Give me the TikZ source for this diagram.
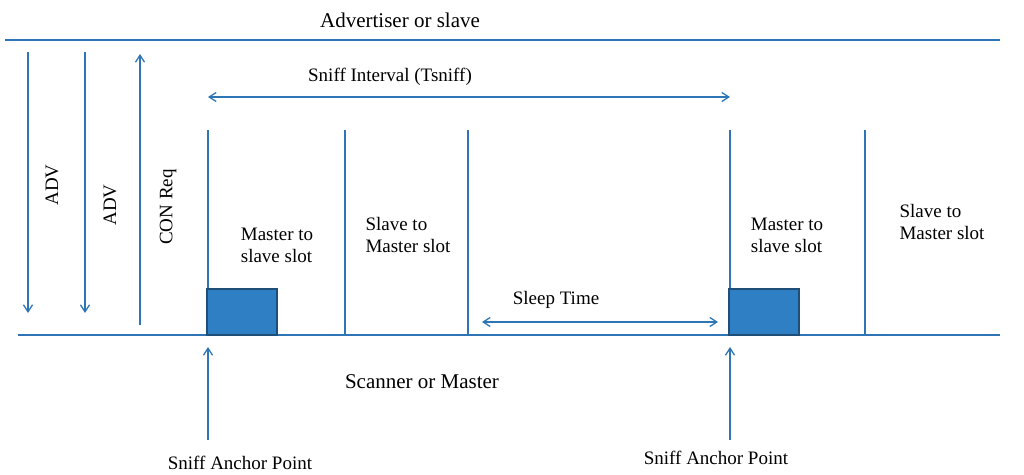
\documentclass[tikz,border=0pt]{standalone}
\usepackage{fontspec}
\setmainfont{Liberation Serif}
\usetikzlibrary{arrows.meta}
\definecolor{ln}{HTML}{2E75B6}
\definecolor{bx}{HTML}{2E7FC4}
\definecolor{bd}{HTML}{1F4E79}
\begin{document}
\begin{tikzpicture}[x=1pt,y=-1pt,
  l/.style={draw=ln,line width=1.3pt},
  a/.style={l,-{Straight Barb[length=7pt,width=9pt]}},
  aa/.style={l,{Straight Barb[length=7pt,width=9pt]}-{Straight Barb[length=7pt,width=9pt]}},
  t/.style={font=\fontsize{19}{22}\selectfont,align=left},
  box/.style={fill=bx,draw=bd,line width=2pt}]
\useasboundingbox (0,0) rectangle (1024,474);
\node[t,font=\fontsize{21}{24}\selectfont] (top) at (400,20) {Advertiser or slave};
\coordinate (t1) at (5,40); \coordinate (t2) at (1000,40);
\draw[l] (t1) -- (t2);
\coordinate (b1) at (18,335); \coordinate (b2) at (1000,335);
\draw[l] (b1) -- (b2);
\coordinate (a1s) at (28,52); \coordinate (a1e) at (28,313);
\draw[a] (a1s) -- (a1e);
\node[t,rotate=90] (adv1) at (52,185) {ADV};
\coordinate (a2s) at (85,52); \coordinate (a2e) at (85,313);
\draw[a] (a2s) -- (a2e);
\node[t,rotate=90] (adv2) at (110,205) {ADV};
\coordinate (a3s) at (140,325); \coordinate (a3e) at (140,54);
\draw[a] (a3s) -- (a3e);
\node[t,rotate=90] (con) at (168,207) {CON Req};
\coordinate (s1) at (208,97); \coordinate (s2) at (730,97);
\draw[aa] (s1) -- (s2);
\node[t] (si) at (390,77) {Sniff Interval (Tsniff)};
\foreach \x/\n in {208/v1,345/v2,468/v3,730/v4,865/v5}{
  \coordinate (\n a) at (\x,130); \coordinate (\n b) at (\x,335);
  \draw[l] (\n a) -- (\n b);}
\node[t] (m1) at (277,245) {Master to\\slave slot};
\node[t] (s1l) at (408,235) {Slave to\\Master slot};
\node[t] (m2) at (787,235) {Master to\\slave slot};
\node[t] (s2l) at (942,222) {Slave to\\Master slot};
\draw[box] (207,289) rectangle (277,335);
\draw[box] (729,289) rectangle (799,335);
\coordinate (sl1) at (482,322); \coordinate (sl2) at (718,322);
\draw[aa] (sl1) -- (sl2);
\node[t] (st) at (556,300) {Sleep Time};
\node[t,font=\fontsize{21}{24}\selectfont] (sm) at (422,382) {Scanner or Master};
\coordinate (u1s) at (208,440); \coordinate (u1e) at (208,347);
\draw[a] (u1s) -- (u1e);
\coordinate (u2s) at (730,440); \coordinate (u2e) at (730,347);
\draw[a] (u2s) -- (u2e);
\node[t] (sa1) at (240,463) {Sniff Anchor Point};
\node[t] (sa2) at (716,458) {Sniff Anchor Point};
\end{tikzpicture}
\end{document}
